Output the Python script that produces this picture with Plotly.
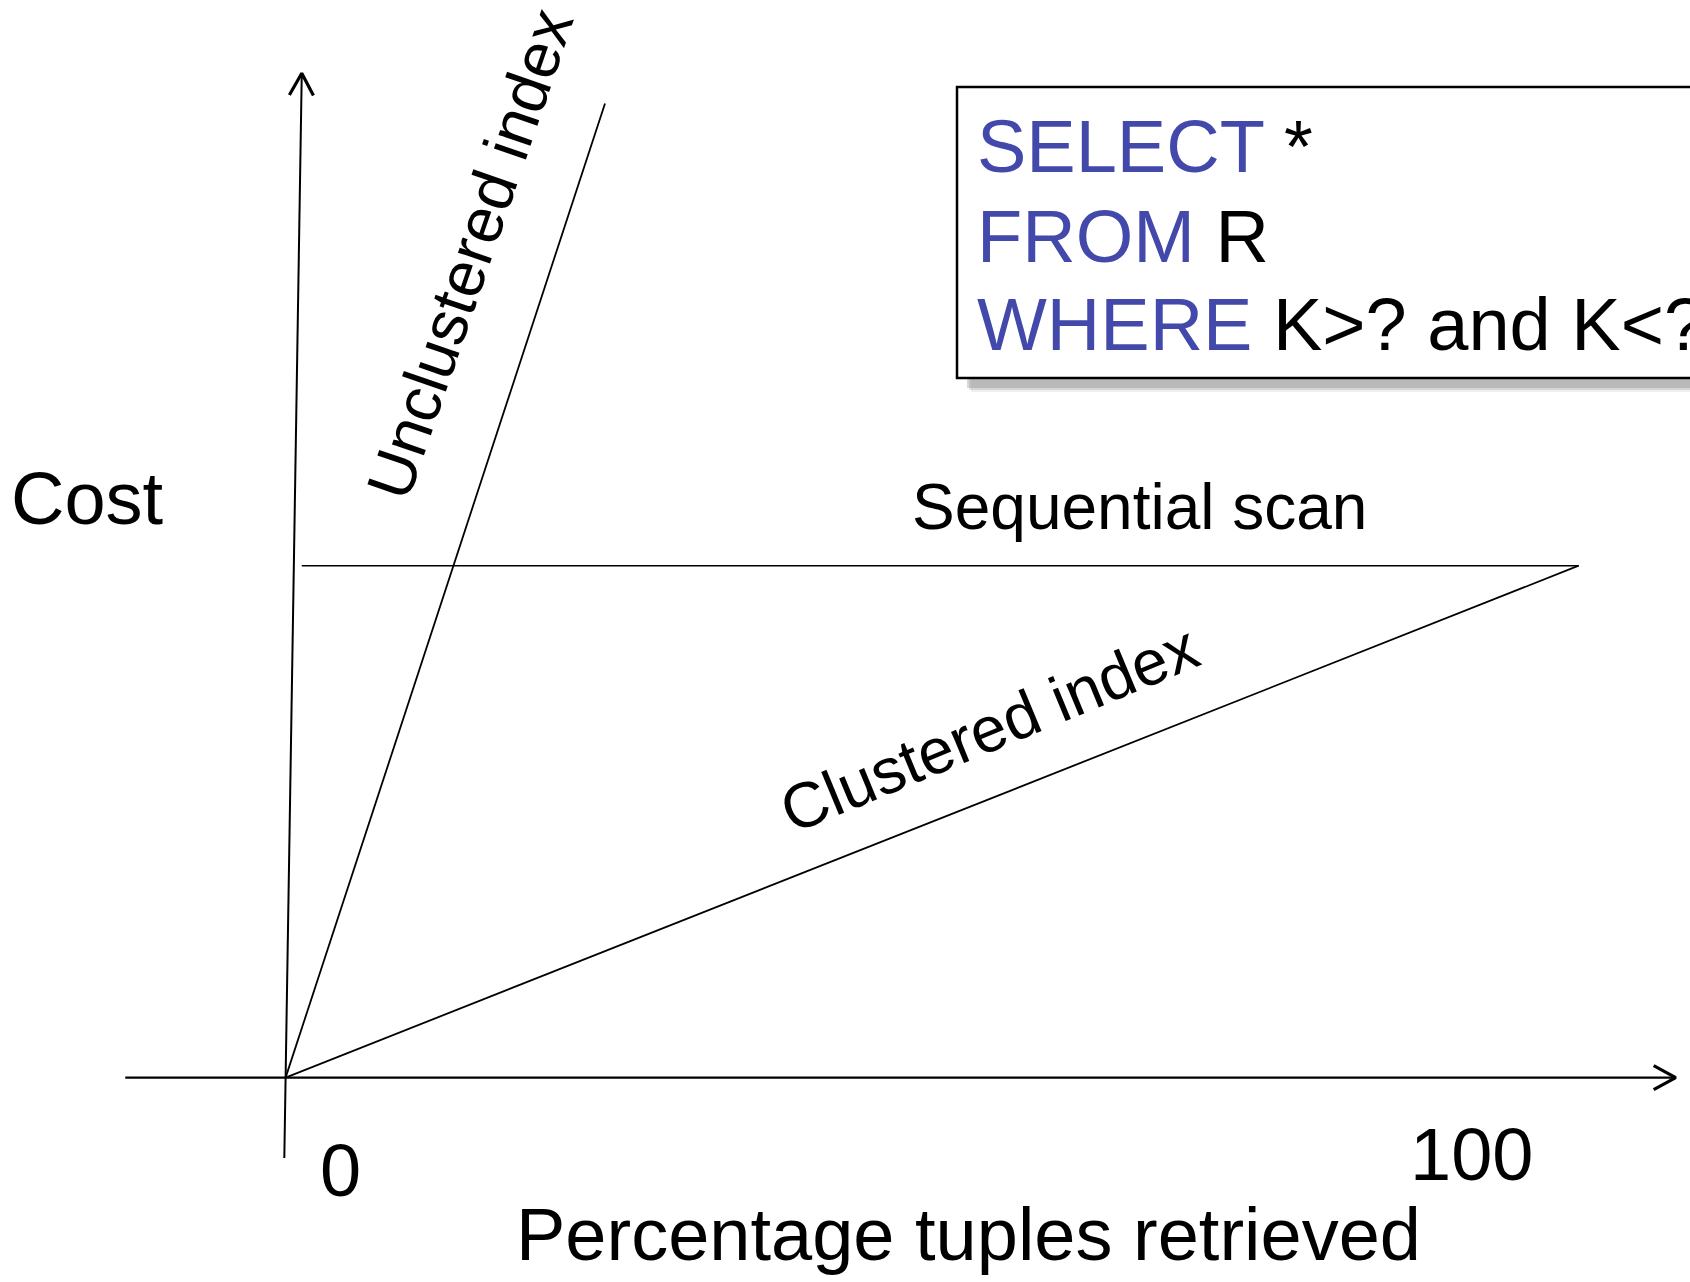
import math
import plotly.graph_objects as go

# ---------------- data (percentage of tuples retrieved, relative cost) ----------------
x_axis_pct = [-12.4, 107.5]
x_axis_cost = [0, 0]
y_axis_pct = [-0.1, 1.25]
y_axis_cost = [-15.7, 196.2]

seq_pct = [1.25, 100]
seq_cost = [100, 100]

clustered_pct = [0, 100]
clustered_cost = [0, 100]

unclustered_pct = [0, 24.7]
unclustered_cost = [0, 190.3]

tick_labels = ["0", "100"]
labels = ["Sequential scan", "Clustered index", "Unclustered index"]

# ---------------- layout helpers ----------------
W, H = 1690, 1282
X0_PX, X100_PX = 285.6, 1578.7
Y0_PX, Y100_PX = 1077.6, 565.7
SX = (X100_PX - X0_PX) / 100.0
SY = (Y0_PX - Y100_PX) / 100.0
x_range = [(0 - X0_PX) / SX, (W - X0_PX) / SX]
y_range = [(Y0_PX - H) / SY, Y0_PX / SY]

def to_px(x, y):
    return X0_PX + x * SX, Y0_PX - y * SY

def from_px(px, py):
    return (px - X0_PX) / SX, (Y0_PX - py) / SY

def pap(px, py):
    return px / W, 1 - py / H

FONT = "Liberation Sans, Arial, Helvetica, sans-serif"
BLUE = "#4349AB"

fig = go.Figure()

def line(xs, ys, w):
    fig.add_trace(go.Scatter(x=xs, y=ys, mode="lines",
                             line=dict(color="black", width=w),
                             hoverinfo="skip", showlegend=False))

line(x_axis_pct, x_axis_cost, 2.2)
line(y_axis_pct, y_axis_cost, 2.0)
line(seq_pct, seq_cost, 1.6)
line(clustered_pct, clustered_cost, 1.8)
line(unclustered_pct, unclustered_cost, 1.8)

# open chevron arrowheads at the axis ends
def chevron(xs, ys, length=22, half=12):
    ex, ey = to_px(xs[1], ys[1])
    bx, by = to_px(xs[0], ys[0])
    d = math.hypot(ex - bx, ey - by)
    ux, uy = (ex - bx) / d, (ey - by) / d
    nx, ny = -uy, ux
    p1 = from_px(ex - ux * length + nx * half, ey - uy * length + ny * half)
    p2 = from_px(ex, ey)
    p3 = from_px(ex - ux * length - nx * half, ey - uy * length - ny * half)
    fig.add_trace(go.Scatter(x=[p1[0], p2[0], p3[0]], y=[p1[1], p2[1], p3[1]],
                             mode="lines", line=dict(color="black", width=3.2),
                             hoverinfo="skip", showlegend=False))

chevron(x_axis_pct, x_axis_cost)
chevron(y_axis_pct, y_axis_cost)

shapes = []
# SQL box with drop shadow
bx0, by0, bx1, by1 = 957, 87, 1760, 378
for off, op in [(14, 0.10), (12, 0.18), (10, 0.25)]:
    x0p, y0p = pap(bx0 + off, by0 + off)
    x1p, y1p = pap(bx1 + off, by1 + off)
    shapes.append(dict(type="rect", xref="paper", yref="paper", x0=x0p, y0=y1p, x1=x1p, y1=y0p,
                       line=dict(width=0), fillcolor=f"rgba(100,100,100,{op})", layer="below"))
x0p, y0p = pap(bx0, by0)
x1p, y1p = pap(bx1, by1)
shapes.append(dict(type="rect", xref="paper", yref="paper", x0=x0p, y0=y1p, x1=x1p, y1=y0p,
                   line=dict(color="black", width=2.5), fillcolor="white", layer="below"))

annotations = []
def text(s, px, py, size, angle=0, xanchor="center"):
    ax_, ay_ = pap(px, py)
    annotations.append(dict(text=s, x=ax_, y=ay_, xref="paper", yref="paper",
                            showarrow=False, xanchor=xanchor, yanchor="middle",
                            textangle=angle, font=dict(family=FONT, size=size, color="black")))

BIG = 74
MID = 64
text(f"<span style='color:{BLUE}'>SELECT</span> *", 975, 146, BIG, xanchor="left")
text(f"<span style='color:{BLUE}'>FROM</span> R", 975, 236, BIG, xanchor="left")
text(f"<span style='color:{BLUE}'>WHERE</span> K&gt;? and K&lt;?", 975, 325, BIG, xanchor="left")

text("Cost", 9, 498, BIG, xanchor="left")
text(tick_labels[0], 340, 1170, BIG)
text(tick_labels[1], 1471, 1154, BIG)
text("Percentage tuples retrieved", 968, 1234, BIG)
text(labels[0], 1139, 507, MID)
text(labels[1], 989, 729, MID, angle=-22.5)
text(labels[2], 470, 254, MID, angle=-71)

fig.update_layout(
    width=W, height=H,
    margin=dict(l=0, r=0, t=0, b=0),
    paper_bgcolor="white", plot_bgcolor="white",
    xaxis=dict(range=x_range, visible=False, fixedrange=True),
    yaxis=dict(range=y_range, visible=False, fixedrange=True),
    shapes=shapes, annotations=annotations, showlegend=False,
)

fig.write_html("out.html", config={"displayModeBar": False},
               post_script="document.body.style.margin='0';")
